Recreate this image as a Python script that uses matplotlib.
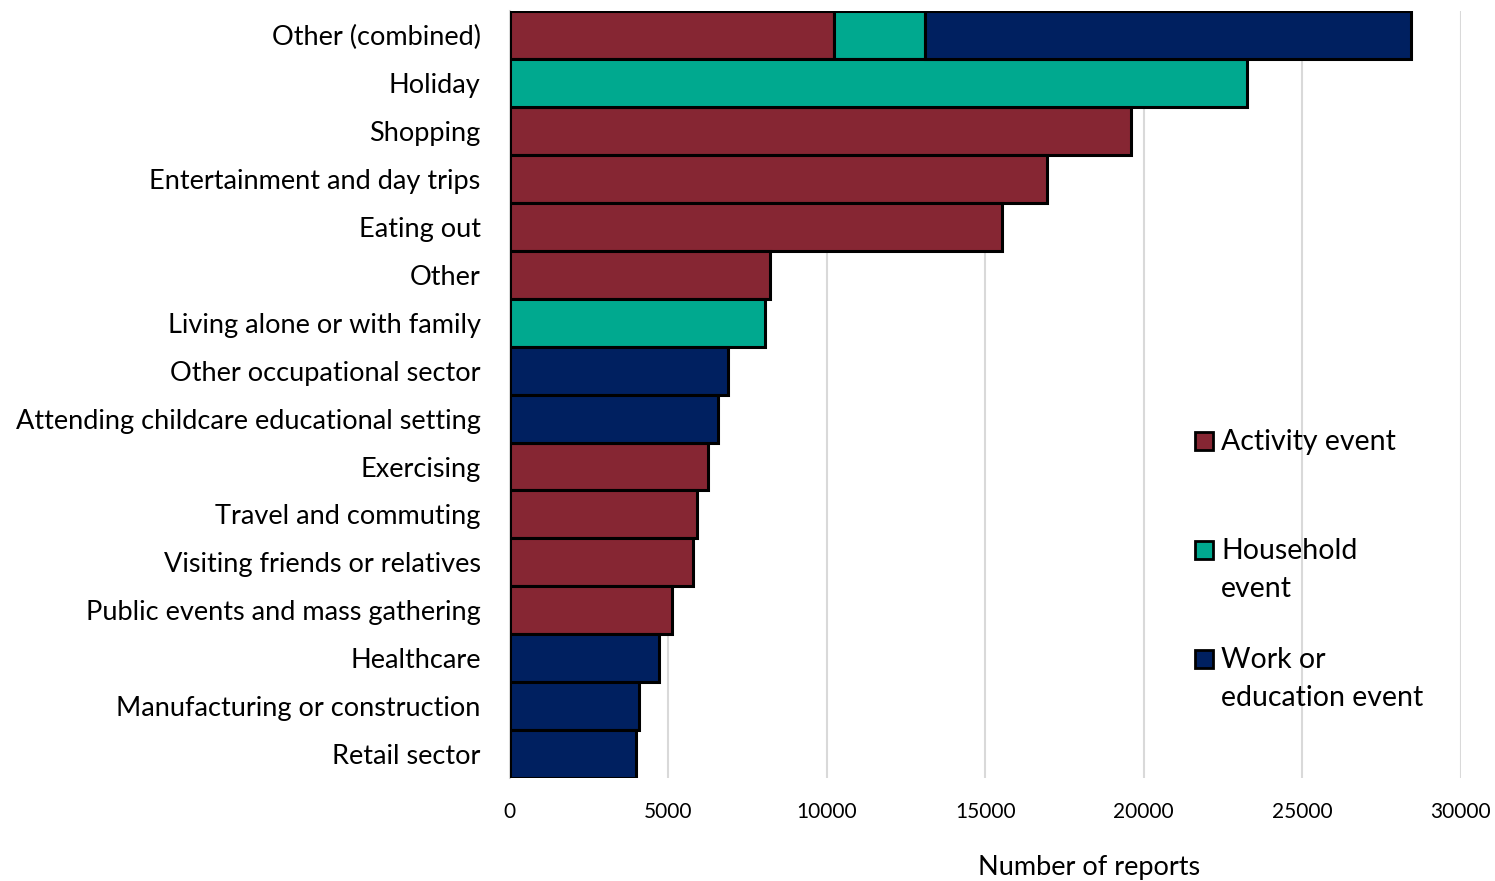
import numpy as np
import matplotlib
matplotlib.use("Agg")
import matplotlib.pyplot as plt
from matplotlib.patches import Rectangle

plt.rcParams['font.family'] = ['Lato', 'DejaVu Sans']

# categories, top to bottom
categories = ["Other (combined)", "Holiday", "Shopping", "Entertainment and day trips",
              "Eating out", "Other", "Living alone or with family",
              "Other occupational sector", "Attending childcare educational setting",
              "Exercising", "Travel and commuting", "Visiting friends or relatives",
              "Public events and mass gathering", "Healthcare",
              "Manufacturing or construction", "Retail sector"]
activity = [10220, 0, 19590, 16950, 15540, 8220, 0, 0, 0, 6250, 5900, 5790, 5110, 0, 0, 0]
household = [2890, 23270, 0, 0, 0, 0, 8060, 0, 0, 0, 0, 0, 0, 0, 0, 0]
work = [15320, 0, 0, 0, 0, 0, 0, 6890, 6560, 0, 0, 0, 0, 4720, 4090, 3980]
series_names = ["Activity event", "Household\nevent", "Work or\neducation event"]
colors = ["#862633", "#00A98F", "#002060"]
xticks = [0, 5000, 10000, 15000, 20000, 25000, 30000]

fig = plt.figure(figsize=(14.95, 8.81), dpi=100)
ax = fig.add_axes([0.341, 0.117, 0.636, 0.870])

y = np.arange(len(categories))
left = np.zeros(len(categories))
for vals, col in zip([activity, household, work], colors):
    vals = np.array(vals, dtype=float)
    mask = vals > 0
    ax.barh(y[mask], vals[mask], left=left[mask], height=1.0, color=col,
            edgecolor='black', linewidth=2.2, zorder=3)
    left += vals

ax.set_ylim(len(categories) - 0.5, -0.5)
ax.set_xlim(0, 30000)
ax.set_yticks(y)
ax.set_yticklabels(categories, fontsize=19.5)
ax.set_xticks(xticks)
ax.set_xticklabels([str(t) for t in xticks], fontsize=15)
ax.tick_params(axis='both', length=0)
ax.tick_params(axis='y', pad=21)
ax.tick_params(axis='x', pad=17)
ax.xaxis.grid(True, color='#d9d9d9', linewidth=1.5, zorder=0)
for s in ['top', 'right', 'bottom']:
    ax.spines[s].set_visible(False)
ax.spines['left'].set_color('#d9d9d9')
ax.spines['left'].set_linewidth(1.5)
ax.set_xlabel("Number of reports", fontsize=19.5, labelpad=24, x=0.609)

# legend drawn by hand: square next to the first line of each label
W, H = 1495.0, 881.0
leg_tops = [429, 538, 647]   # pixel y of the text top for each entry
for name, col, top in zip(series_names, colors, leg_tops):
    fig.patches.append(Rectangle((1195 / W, 1 - (top + 21) / H), 18 / W, 18 / H,
                                 transform=fig.transFigure, facecolor=col,
                                 edgecolor='black', linewidth=2))
    fig.text(1221 / W, 1 - top / H, name, fontsize=20.5, va='top', ha='left',
             linespacing=1.55)

fig.savefig("out.png", dpi=100)
